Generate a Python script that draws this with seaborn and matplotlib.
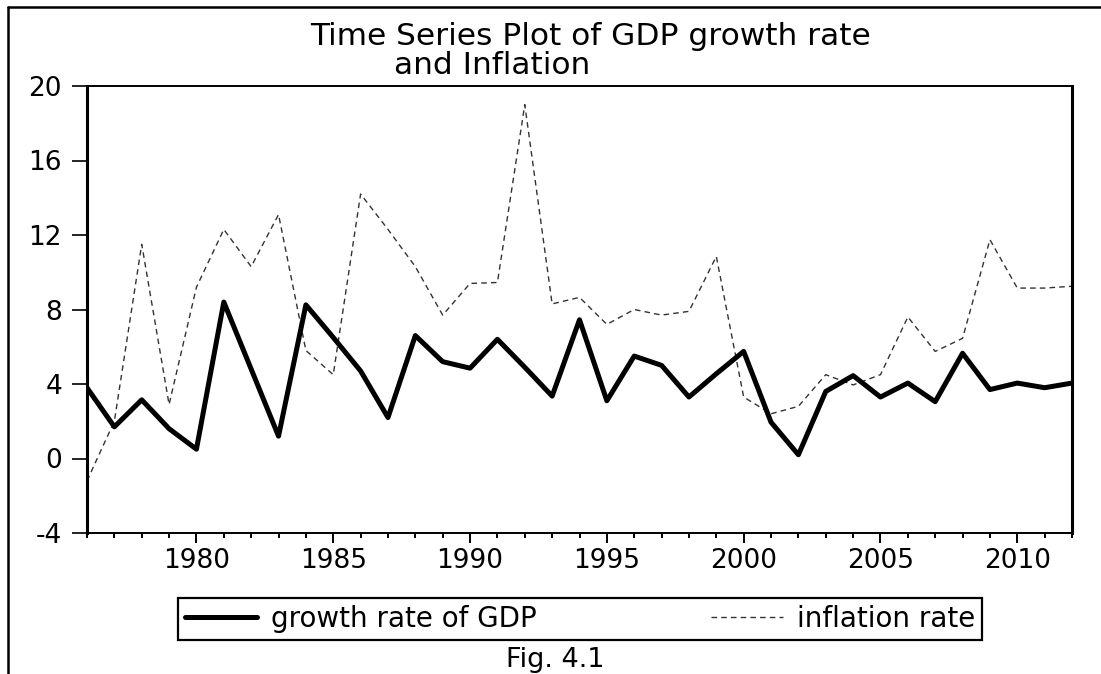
import numpy as np
import pandas as pd
import seaborn as sns
import matplotlib
matplotlib.use("Agg")
import matplotlib.pyplot as plt
from matplotlib.lines import Line2D
from matplotlib.ticker import MultipleLocator

# ---- data ----
years = list(range(1976, 2013))
gdp_growth = [3.8, 1.7, 3.15, 1.6, 0.5, 8.4, 4.8, 1.2, 8.25, 6.5,
              4.7, 2.2, 6.6, 5.2, 4.85, 6.4, 4.9, 3.35, 7.45, 3.1,
              5.5, 5.0, 3.3, 4.55, 5.75, 1.95, 0.2, 3.6, 4.45, 3.3,
              4.05, 3.05, 5.65, 3.7, 4.05, 3.8, 4.05]
inflation = [-1.2, 2.0, 11.5, 2.9, 9.2, 12.3, 10.3, 13.1, 5.8, 4.5,
             14.2, 12.3, 10.3, 7.7, 9.4, 9.45, 19.0, 8.3, 8.65, 7.2,
             8.0, 7.7, 7.9, 10.85, 3.3, 2.4, 2.8, 4.5, 3.95, 4.5,
             7.6, 5.75, 6.45, 11.75, 9.15, 9.15, 9.25]
series_labels = ["growth rate of GDP", "inflation rate"]
title_line1 = "Time Series Plot of GDP growth rate"
title_line2 = "and Inflation"
caption = "Fig. 4.1"
y_ticks = [-4, 0, 4, 8, 12, 16, 20]

df = pd.DataFrame({"year": years, "gdp": gdp_growth, "inf": inflation})

sns.set_theme(style="white")
plt.rcParams["font.family"] = ["DejaVu Sans"]
plt.rcParams["axes.unicode_minus"] = False
plt.rcParams["text.color"] = "black"
plt.rcParams["legend.labelcolor"] = "black"

W, H = 1101, 674
fig = plt.figure(figsize=(W / 100, H / 100), dpi=100)
fig.patch.set_facecolor("white")

ax_l, ax_r, ax_t, ax_b = 87, 1072, 86, 533
ax = fig.add_axes([ax_l / W, 1 - ax_b / H, (ax_r - ax_l) / W, (ax_b - ax_t) / H])
ax.set_facecolor("white")

sns.lineplot(data=df, x="year", y="inf", ax=ax, color="#333333",
             linewidth=1.0, linestyle=(0, (4, 3)), legend=False)
sns.lineplot(data=df, x="year", y="gdp", ax=ax, color="black",
             linewidth=3.6, legend=False)

ax.set_xlim(1976, 2012)
ax.set_ylim(-4, 20)
ax.set_yticks(y_ticks)
ax.xaxis.set_major_locator(MultipleLocator(5))
ax.xaxis.set_minor_locator(MultipleLocator(1))
ax.set_xlabel("")
ax.set_ylabel("")

for side in ["left", "right"]:
    ax.spines[side].set_linewidth(2.2)
    ax.spines[side].set_color("black")
for side in ["top", "bottom"]:
    ax.spines[side].set_linewidth(1.4)
    ax.spines[side].set_color("black")

ax.tick_params(axis="y", which="major", direction="out", length=11, width=1.2,
               color="black", labelsize=19, pad=7, left=True, labelcolor="black")
ax.tick_params(axis="x", which="major", direction="out", length=7.5, width=1.4,
               color="black", labelsize=19, pad=3, bottom=True, labelcolor="black")
ax.tick_params(axis="x", which="minor", direction="out", length=3.8, width=1.4,
               color="black", bottom=True)

# ---- title (two lines, second one offset to the left as in the reference) ----
fig.text(591 / W, 1 - 45 / H, title_line1, ha="center", va="baseline",
         fontsize=22.5, color="black")
fig.text(492 / W, 1 - 74 / H, title_line2, ha="center", va="baseline",
         fontsize=22.5, color="black")

# ---- legend ----
handles = [Line2D([], [], color="black", linewidth=3.6),
           Line2D([], [], color="#333333", linewidth=1.0, linestyle=(0, (4, 3)))]
leg = fig.legend(handles, series_labels, ncol=2, loc="center",
                 bbox_to_anchor=(178 / W, 1 - 640 / H, 804 / W, 42 / H),
                 mode="expand", frameon=True, fancybox=False, shadow=False,
                 framealpha=1, edgecolor="black", fontsize=20,
                 handlelength=2.6, handletextpad=0.5, columnspacing=1.3,
                 borderpad=0.25, borderaxespad=0, labelcolor="black")
leg.get_frame().set_linewidth(1.6)

# ---- caption ----
fig.text(555 / W, 1 - 673 / H, caption, ha="center", va="bottom",
         fontsize=19.5, color="black")

# ---- outer frame (left and top edges) ----
fig.add_artist(Line2D([8 / W, 8 / W], [0, 1 - 6.5 / H], transform=fig.transFigure,
                      color="black", linewidth=1.8))
fig.add_artist(Line2D([8 / W, 1], [1 - 6.5 / H, 1 - 6.5 / H], transform=fig.transFigure,
                      color="black", linewidth=1.8))

fig.savefig("out.png", dpi=100, facecolor="white")
